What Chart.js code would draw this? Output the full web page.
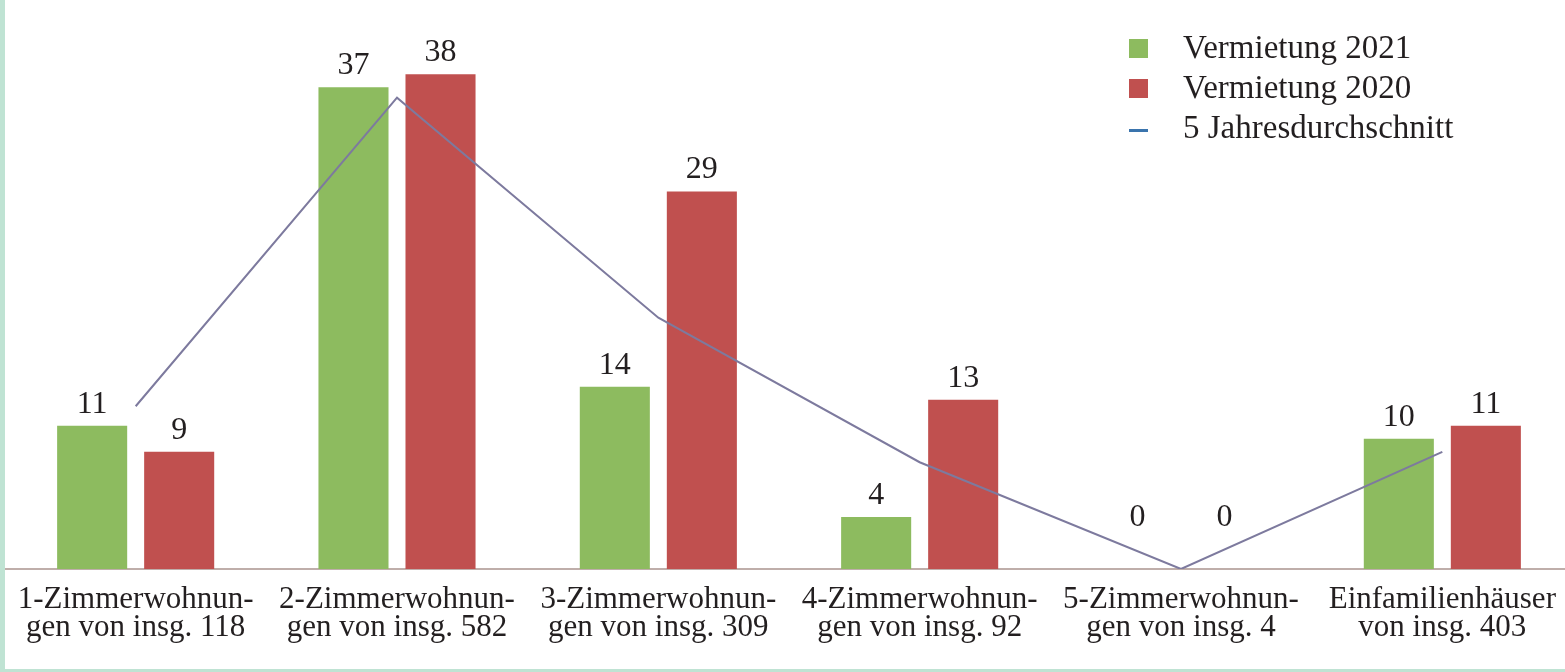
<!DOCTYPE html>
<html lang="de">
<head>
    <meta charset="UTF-8">
    <title>Vermietung nach Wohnungsgröße</title>
    <script src="https://cdn.jsdelivr.net/npm/chart.js"></script>
    <style>
        html, body {
            margin: 0;
            padding: 0;
            background: #ffffff;
            overflow: hidden;
            width: 1565px;
            height: 672px;
        }
        .rand-links {
            position: absolute;
            left: 0; top: 0;
            width: 5px; height: 672px;
            background: #bfe3d3;
        }
        .rand-unten {
            position: absolute;
            left: 0; top: 669px;
            width: 1565px; height: 3px;
            background: #bfe3d3;
        }
        .container {
            position: absolute;
            left: 5px; top: 0;
            width: 1568px; height: 668px;
        }
    </style>
</head>
<body>

<div class="rand-links"></div>
<div class="rand-unten"></div>
<div class="container">
    <canvas id="grafico"></canvas>
</div>

<script>
// Kategorien (zweizeilige Beschriftung)
const kategorien = [
    ['1-Zimmerwohnun-', 'gen von insg. 118'],
    ['2-Zimmerwohnun-', 'gen von insg. 582'],
    ['3-Zimmerwohnun-', 'gen von insg. 309'],
    ['4-Zimmerwohnun-', 'gen von insg. 92'],
    ['5-Zimmerwohnun-', 'gen von insg. 4'],
    ['Einfamilienhäuser', 'von insg. 403']
];

// Werte
const vermietung2021 = [11, 37, 14, 4, 0, 10];
const vermietung2020 = [9, 38, 29, 13, 0, 11];
const durchschnitt5J = [12.5, 36.2, 19.3, 8.2, 0, 9.0];

const schrift = '"Liberation Serif", "DejaVu Serif", serif';

// Werte über den Balken
const wertePlugin = {
    id: 'werte',
    afterDatasetsDraw(chart) {
        const ctx = chart.ctx;
        ctx.save();
        ctx.font = '32px ' + schrift;
        ctx.fillStyle = '#231f20';
        ctx.textAlign = 'center';
        ctx.textBaseline = 'alphabetic';
        chart.data.datasets.forEach((ds, i) => {
            if (ds.type !== 'bar') return;
            const meta = chart.getDatasetMeta(i);
            meta.data.forEach((el, j) => {
                const y = Math.min(el.y, el.base - 30) - 13;
                ctx.fillText(String(ds.data[j]), el.x, y);
            });
        });
        ctx.restore();
    }
};

// Legende oben rechts
const legendePlugin = {
    id: 'legende',
    afterDraw(chart) {
        const ctx = chart.ctx;
        ctx.save();
        ctx.font = '33px ' + schrift;
        ctx.textBaseline = 'alphabetic';
        ctx.textAlign = 'left';
        chart.data.datasets.forEach((ds, i) => {
            const zeileY = 48 + i * 40;
            const x0 = 1124;
            if (ds.type === 'bar') {
                ctx.fillStyle = ds.backgroundColor;
                ctx.fillRect(x0, zeileY - 9, 19, 19);
            } else {
                ctx.fillStyle = ds.legendColor;
                ctx.fillRect(x0, zeileY + 1, 19, 3);
            }
            ctx.fillStyle = '#231f20';
            ctx.fillText(ds.label, 1178, zeileY + 10);
        });
        ctx.restore();
    }
};

let ctx = document.getElementById('grafico').getContext('2d');
let chart = new Chart(ctx, {
    data: {
        labels: kategorien,
        datasets: [
            {
                type: 'bar',
                label: 'Vermietung 2021',
                data: vermietung2021,
                backgroundColor: '#8dbb5f',
                categoryPercentage: 0.666,
                barPercentage: 0.805,
                order: 1
            },
            {
                type: 'bar',
                label: 'Vermietung 2020',
                data: vermietung2020,
                backgroundColor: '#c0504f',
                categoryPercentage: 0.666,
                barPercentage: 0.805,
                order: 1
            },
            {
                type: 'line',
                label: '5 Jahresdurchschnitt',
                data: durchschnitt5J,
                borderColor: '#7d7a9e',
                legendColor: '#3a74ad',
                borderWidth: 2,
                pointRadius: 0,
                tension: 0,
                fill: false,
                order: 0
            }
        ]
    },
    options: {
        responsive: true,
        maintainAspectRatio: false,
        animation: false,
        layout: { padding: 0 },
        plugins: {
            legend: { display: false },
            tooltip: { enabled: false }
        },
        scales: {
            x: {
                grid: { display: false },
                border: { display: true, color: '#bfaeaa', width: 2 },
                ticks: {
                    color: '#231f20',
                    font: { family: schrift, size: 31, lineHeight: 0.93 },
                    padding: 8,
                    maxRotation: 0,
                    autoSkip: false
                },
                afterFit(scale) { scale.height = 99; }
            },
            y: {
                display: false,
                min: 0,
                max: 43.7
            }
        }
    },
    plugins: [wertePlugin, legendePlugin]
});
</script>

</body>
</html>
